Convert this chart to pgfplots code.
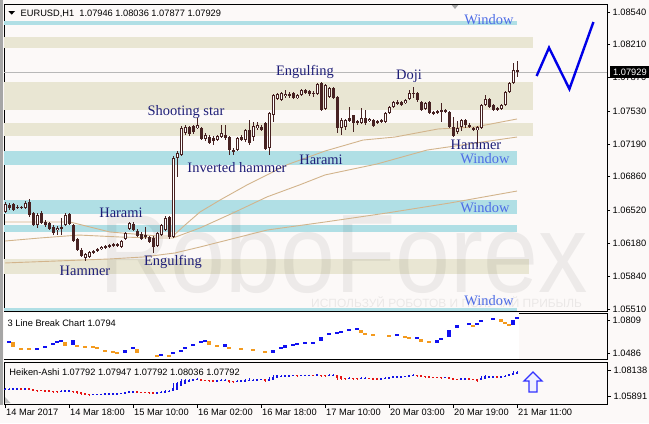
\documentclass[border=0pt]{standalone}
\usepackage{pgfplots}
\pgfplotsset{compat=1.18}
\usepackage{pgfplotstable}
\usepackage{fontspec}
\setmainfont{Liberation Sans}
\newfontfamily\serifface{Liberation Serif}

\definecolor{chartbg}{HTML}{FCF9F8}
\definecolor{candle}{HTML}{472222}
\definecolor{bandcyan}{HTML}{B0DFE5}
\definecolor{bandbeige}{HTML}{E9E6D3}
\definecolor{maline}{HTML}{D2B48C}
\definecolor{pattern}{HTML}{1E1E78}
\definecolor{window}{HTML}{4D6CE6}
\definecolor{lbblue}{HTML}{1010F0}
\definecolor{lborange}{HTML}{F39A1E}
\definecolor{hablue}{HTML}{1414E6}
\definecolor{hared}{HTML}{E61414}
\definecolor{zigzag}{HTML}{0000E8}

\pgfdeclarelayer{bg}
\pgfsetlayers{bg,main}

\newcommand\uifont{\fontsize{9.3}{11}\selectfont}
\newcommand\tagfont{\serifface\fontsize{14.5}{16}\selectfont}

% hollow arrow used by the signal plot
\pgfdeclareplotmark{hollowup}{%
  \pgfpathmoveto{\pgfqpoint{0bp}{10bp}}%
  \pgfpathlineto{\pgfqpoint{9bp}{1bp}}%
  \pgfpathlineto{\pgfqpoint{4bp}{1bp}}%
  \pgfpathlineto{\pgfqpoint{4bp}{-10bp}}%
  \pgfpathlineto{\pgfqpoint{-4bp}{-10bp}}%
  \pgfpathlineto{\pgfqpoint{-4bp}{1bp}}%
  \pgfpathlineto{\pgfqpoint{-9bp}{1bp}}%
  \pgfpathclose
  \pgfusepathqfillstroke}

\pgfplotsset{
  mtpanel/.style={
    scale only axis, width=603bp,
    xmin=-0.25, xmax=150.5, enlargelimits=false,
    axis background/.style={fill=chartbg},
    axis line style={black, line width=0.8bp},
    tick style={black, line width=0.7bp},
    tick align=outside, major tick length=3bp,
    ytick pos=right, xtick=\empty,
    yticklabel style={font=\uifont, inner sep=1bp, xshift=1.5bp},
  },
  % a vertical segment per row, drawn as an error bar and nothing else
  errbar/.style 2 args={draw=none, no markers, mark size=0pt,
    /pgfplots/error bars/y dir=both,
    /pgfplots/error bars/y explicit,
    /pgfplots/error bars/error mark=none,
    /pgfplots/error bars/error bar style={draw=#1, line width=#2, solid}},
}

% EURUSD H1 candles: bar index, open, high, low, close
\pgfplotstableread{
i o h l c
0 1.06500 1.06602 1.06490 1.06582
1 1.06571 1.06592 1.06520 1.06541
2 1.06582 1.06592 1.06510 1.06520
3 1.06541 1.06571 1.06531 1.06551
4 1.06551 1.06561 1.06531 1.06541
5 1.06541 1.06612 1.06531 1.06592
6 1.06602 1.06633 1.06449 1.06469
7 1.06490 1.06500 1.06357 1.06367
8 1.06367 1.06490 1.06337 1.06469
9 1.06490 1.06510 1.06377 1.06388
10 1.06398 1.06418 1.06347 1.06367
11 1.06388 1.06398 1.06316 1.06326
12 1.06347 1.06367 1.06265 1.06286
13 1.06316 1.06357 1.06265 1.06337
14 1.06347 1.06439 1.06265 1.06326
15 1.06367 1.06490 1.06357 1.06469
16 1.06479 1.06490 1.06367 1.06377
17 1.06367 1.06377 1.06194 1.06204
18 1.06224 1.06235 1.06102 1.06112
19 1.06112 1.06133 1.06041 1.06051
20 1.06031 1.06082 1.06000 1.06071
21 1.06041 1.06102 1.06031 1.06092
22 1.06082 1.06112 1.06071 1.06102
23 1.06122 1.06133 1.06092 1.06102
24 1.06122 1.06153 1.06112 1.06143
25 1.06133 1.06163 1.06122 1.06153
26 1.06163 1.06173 1.06133 1.06143
27 1.06153 1.06184 1.06143 1.06173
28 1.06173 1.06184 1.06143 1.06153
29 1.06143 1.06214 1.06133 1.06204
30 1.06224 1.06296 1.06214 1.06286
31 1.06326 1.06398 1.06316 1.06388
32 1.06377 1.06398 1.06306 1.06316
33 1.06306 1.06326 1.06245 1.06255
34 1.06275 1.06296 1.06214 1.06224
35 1.06245 1.06347 1.06224 1.06265
36 1.06245 1.06255 1.06184 1.06194
37 1.06235 1.06255 1.06082 1.06143
38 1.06153 1.06296 1.06143 1.06286
39 1.06265 1.06377 1.06255 1.06367
40 1.06316 1.06459 1.06306 1.06439
41 1.06449 1.06459 1.06224 1.06245
42 1.06245 1.07071 1.06235 1.07051
43 1.07051 1.07122 1.06857 1.07102
44 1.07081 1.07377 1.07071 1.07357
45 1.07306 1.07387 1.07285 1.07367
46 1.07367 1.07377 1.07275 1.07296
47 1.07377 1.07387 1.07296 1.07316
48 1.07357 1.07459 1.07347 1.07387
49 1.07357 1.07367 1.07234 1.07245
50 1.07245 1.07306 1.07224 1.07285
51 1.07265 1.07285 1.07194 1.07204
52 1.07255 1.07275 1.07183 1.07224
53 1.07234 1.07285 1.07224 1.07275
54 1.07265 1.07387 1.07255 1.07306
55 1.07285 1.07387 1.07234 1.07255
56 1.07265 1.07275 1.07081 1.07132
57 1.07132 1.07153 1.07081 1.07112
58 1.07132 1.07265 1.07122 1.07255
59 1.07265 1.07285 1.07224 1.07234
60 1.07234 1.07347 1.07214 1.07336
61 1.07336 1.07438 1.07183 1.07204
62 1.07265 1.07418 1.07224 1.07377
63 1.07357 1.07418 1.07336 1.07387
64 1.07367 1.07387 1.07326 1.07336
65 1.07408 1.07418 1.07132 1.07143
66 1.07153 1.07520 1.07081 1.07510
67 1.07489 1.07704 1.07418 1.07693
68 1.07653 1.07714 1.07642 1.07704
69 1.07642 1.07724 1.07632 1.07714
70 1.07683 1.07744 1.07663 1.07704
71 1.07704 1.07724 1.07663 1.07683
72 1.07714 1.07724 1.07653 1.07663
73 1.07663 1.07704 1.07653 1.07693
74 1.07693 1.07755 1.07683 1.07744
75 1.07744 1.07755 1.07704 1.07714
76 1.07734 1.07744 1.07683 1.07704
77 1.07704 1.07734 1.07673 1.07714
78 1.07704 1.07816 1.07693 1.07806
79 1.07816 1.07826 1.07530 1.07540
80 1.07551 1.07806 1.07540 1.07795
81 1.07673 1.07775 1.07663 1.07765
82 1.07765 1.07775 1.07653 1.07663
83 1.07673 1.07683 1.07306 1.07357
84 1.07357 1.07459 1.07285 1.07438
85 1.07367 1.07449 1.07336 1.07438
86 1.07459 1.07571 1.07418 1.07428
87 1.07489 1.07489 1.07316 1.07408
88 1.07428 1.07438 1.07387 1.07408
89 1.07408 1.07561 1.07398 1.07459
90 1.07459 1.07540 1.07387 1.07408
91 1.07428 1.07459 1.07418 1.07449
92 1.07438 1.07449 1.07367 1.07377
93 1.07428 1.07438 1.07398 1.07408
94 1.07418 1.07449 1.07408 1.07438
95 1.07418 1.07520 1.07408 1.07510
96 1.07510 1.07581 1.07500 1.07571
97 1.07571 1.07632 1.07561 1.07622
98 1.07622 1.07642 1.07591 1.07602
99 1.07622 1.07632 1.07581 1.07591
100 1.07612 1.07653 1.07602 1.07642
101 1.07653 1.07744 1.07642 1.07714
102 1.07704 1.07775 1.07663 1.07714
103 1.07714 1.07724 1.07622 1.07642
104 1.07622 1.07632 1.07530 1.07540
105 1.07551 1.07622 1.07540 1.07612
106 1.07622 1.07632 1.07500 1.07510
107 1.07520 1.07530 1.07489 1.07510
108 1.07510 1.07540 1.07500 1.07530
109 1.07540 1.07612 1.07418 1.07530
110 1.07540 1.07551 1.07510 1.07520
111 1.07520 1.07530 1.07357 1.07367
112 1.07367 1.07469 1.07265 1.07275
113 1.07316 1.07428 1.07296 1.07357
114 1.07367 1.07449 1.07326 1.07438
115 1.07438 1.07449 1.07357 1.07387
116 1.07387 1.07408 1.07357 1.07367
117 1.07357 1.07367 1.07326 1.07336
118 1.07336 1.07377 1.07163 1.07367
119 1.07357 1.07602 1.07347 1.07591
120 1.07591 1.07693 1.07581 1.07653
121 1.07653 1.07663 1.07561 1.07571
122 1.07591 1.07602 1.07530 1.07540
123 1.07561 1.07571 1.07530 1.07540
124 1.07551 1.07602 1.07540 1.07591
125 1.07591 1.07734 1.07581 1.07724
126 1.07724 1.07826 1.07714 1.07816
127 1.07816 1.08020 1.07806 1.07948
128 1.07946 1.08036 1.07877 1.07929
}\candles

% Heiken-Ashi open: half way between the previous Heiken-Ashi open and close
\pgfplotstablecreatecol[create col/expr={(\thisrow{o}+\thisrow{h}+\thisrow{l}+\thisrow{c})/4}]{hac}\candles
\gdef\haprevo{1.06500}\gdef\haprevc{1.06541}
\pgfplotstablecreatecol[create col/assign/.code={%
  \getthisrow{hac}\curc
  \pgfmathsetmacro\curo{(\haprevo+\haprevc)/2}%
  \xdef\haprevo{\curo}\xdef\haprevc{\curc}%
  \pgfkeyslet{/pgfplots/table/create col/next content}\curo
}]{hao}\candles

% 3 line break bricks (bar index, two ends)
\pgfplotstableread{
i a b
1 1.05936 1.05936
8 1.05251 1.05251
10 1.05446 1.05446
12 1.05838 1.05642
13 1.05936 1.05936
14 1.06132 1.05936
17 1.06132 1.05642
30 1.05153 1.04859
32 1.05348 1.05348
39 1.04761 1.04565
42 1.04859 1.04859
44 1.05055 1.05055
45 1.05348 1.05348
47 1.05642 1.05642
49 1.05936 1.05936
50 1.06034 1.06034
55 1.05740 1.05446
67 1.05153 1.04859
69 1.05348 1.05348
70 1.05642 1.05348
72 1.05642 1.05642
73 1.05740 1.05740
75 1.05838 1.05838
77 1.05936 1.05740
79 1.06426 1.06034
81 1.06719 1.06719
83 1.06817 1.06817
84 1.06915 1.06915
86 1.07111 1.07111
88 1.07209 1.07209
98 1.06621 1.06621
103 1.06328 1.06328
108 1.06132 1.05838
109 1.06328 1.06132
111 1.07111 1.06426
113 1.07600 1.07307
116 1.07698 1.07698
118 1.07796 1.07600
119 1.07992 1.07992
122 1.08188 1.08188
127 1.08090 1.07600
128 1.08384 1.08188
}\bricksup

\pgfplotstableread{
i a b
2 1.05936 1.05446
4 1.05251 1.05251
6 1.05251 1.05251
15 1.05936 1.05544
18 1.05544 1.05544
20 1.05446 1.05446
22 1.05446 1.05446
23 1.05348 1.05348
25 1.05153 1.04957
27 1.04957 1.04957
28 1.04859 1.04859
33 1.05251 1.04859
38 1.04565 1.04565
41 1.04565 1.04565
51 1.06034 1.05642
53 1.05544 1.05544
56 1.05446 1.05251
59 1.05251 1.05251
62 1.05153 1.05153
65 1.05055 1.04859
89 1.07111 1.06817
90 1.06719 1.06719
92 1.06621 1.06621
96 1.06524 1.06524
100 1.06426 1.06426
101 1.06328 1.06328
104 1.06230 1.05936
106 1.05936 1.05936
117 1.07600 1.07405
124 1.08188 1.07894
125 1.07894 1.07698
126 1.07600 1.07600
}\bricksdown

\begin{document}
\begin{tikzpicture}[x=1bp, y=1bp]

% ---------------- main price panel ----------------
\begin{axis}[mtpanel, name=main, height=307bp,
  ymin=1.05490, ymax=1.08622,
  ytick={1.0854,1.0821,1.0787,1.0753,1.0719,1.0686,1.0652,1.0618,1.0584,1.0551},
  yticklabels={1.08540,1.08210,1.07870,1.07530,1.07190,1.06860,1.06520,1.06180,1.05840,1.05510}]

% support / resistance bands
\addplot[fill=bandcyan, draw=none] coordinates {(-0.25,1.08410) (128,1.08410) (128,1.08451) (-0.25,1.08451)} -- cycle;
\addplot[fill=bandbeige, draw=none] coordinates {(-0.25,1.08173) (132,1.08173) (132,1.08285) (-0.25,1.08285)} -- cycle;
\addplot[fill=bandbeige, draw=none] coordinates {(-0.25,1.07540) (132,1.07540) (132,1.07826) (-0.25,1.07826)} -- cycle;
\addplot[fill=bandbeige, draw=none] coordinates {(-0.25,1.07275) (132,1.07275) (132,1.07408) (-0.25,1.07408)} -- cycle;
\addplot[fill=bandcyan, draw=none] coordinates {(-0.25,1.06979) (128,1.06979) (128,1.07122) (-0.25,1.07122)} -- cycle;
\addplot[fill=bandcyan, draw=none] coordinates {(-0.25,1.06479) (128,1.06479) (128,1.06622) (-0.25,1.06622)} -- cycle;
\addplot[fill=bandcyan, draw=none] coordinates {(-0.25,1.06296) (128,1.06296) (128,1.06367) (-0.25,1.06367)} -- cycle;
\addplot[fill=bandbeige, draw=none] coordinates {(-0.25,1.05867) (131,1.05867) (131,1.06020) (-0.25,1.06020)} -- cycle;
\addplot[fill=bandcyan, draw=none] coordinates {(-0.25,1.05490) (128,1.05490) (128,1.05520) (-0.25,1.05520)} -- cycle;

% watermark
\node[anchor=base west, inner sep=0, text=black, text opacity=0.06,
  font=\fontsize{112}{112}\selectfont] at (axis cs:23.5,1.05674) {\scalebox{0.885}[1]{RoboForex}};
\node[anchor=base west, inner sep=0, text=black, text opacity=0.07,
  font=\fontsize{12}{12}\selectfont] at (axis cs:76.5,1.05525) {ИСПОЛЬЗУЙ РОБОТОВ И ПОЛУЧАЙ ПРИБЫЛЬ};

% current price line
\addplot[black!28, line width=0.8bp] coordinates {(-0.25,1.07929) (150.5,1.07929)};

% moving averages
\addplot[maline, line width=0.9bp] coordinates {
(0,1.06398) (16.25,1.06398) (26.25,1.06296) (38.25,1.06255) (42,1.06255)
(45,1.06367) (48.75,1.06500) (53.75,1.06622) (60.5,1.06776) (65.5,1.06878)
(70.5,1.06982) (80,1.07122) (89.5,1.07234) (97.5,1.07265) (108.25,1.07347)
(117.5,1.07367) (128,1.07449)};
\addplot[maline, line width=0.9bp] coordinates {
(0,1.06204) (8.75,1.06235) (18.5,1.06265) (28.75,1.06245) (38.25,1.06235)
(42,1.06235) (48.75,1.06337) (57,1.06490) (65.5,1.06654) (73.75,1.06778)
(80,1.06878) (93,1.06990) (105.5,1.07132) (128,1.07265)};
\addplot[maline, line width=0.9bp] coordinates {
(0,1.05980) (26.25,1.06021) (34.5,1.06041) (42.5,1.06082) (48.75,1.06143)
(65.5,1.06316) (80,1.06398) (95.5,1.06490) (111.25,1.06592) (128,1.06714)};

% candles: wicks, bodies, hollow inside of rising candles
\addplot[errbar={candle}{1bp}] table[x=i,
  y expr={(\thisrow{h}+\thisrow{l})/2},
  y error expr={(\thisrow{h}-\thisrow{l})/2}] {\candles};
\addplot[errbar={candle}{3bp}] table[x=i,
  y expr={(\thisrow{o}+\thisrow{c})/2},
  y error expr={max(abs(\thisrow{o}-\thisrow{c})/2,0.00006)}] {\candles};
\addplot[restrict expr to domain={\thisrow{c}-\thisrow{o}}{0.00001:1},
  errbar={white}{1bp}] table[x=i,
  y expr={(\thisrow{o}+\thisrow{c})/2},
  y error expr={max(abs(\thisrow{o}-\thisrow{c})/2-0.0001,0)}] {\candles};

% forecast zigzag
\addplot[zigzag, line width=2.4bp] coordinates {
(132.9,1.07887) (136,1.08176) (141.1,1.07755) (147.1,1.08438)};
\end{axis}

% ---------------- 3 line break panel ----------------
\begin{axis}[mtpanel, name=lb, at={(main.south west)}, anchor=north west, yshift=-2bp,
  height=46bp, ymin=1.04273, ymax=1.08775,
  ytick={1.0486,1.0809}, yticklabels={1.0486,1.0809}]
\addplot[fill=white, draw=none] coordinates {(-0.25,1.04273) (128.6,1.04273) (128.6,1.08775) (-0.25,1.08775)} -- cycle;
\addplot[errbar={lbblue}{3.5bp}] table[x=i,
  y expr={(\thisrow{a}+\thisrow{b})/2},
  y error expr={max(abs(\thisrow{a}-\thisrow{b})/2,0.0008)}] {\bricksup};
\addplot[errbar={lborange}{3.5bp}] table[x=i,
  y expr={(\thisrow{a}+\thisrow{b})/2},
  y error expr={max(abs(\thisrow{a}-\thisrow{b})/2,0.0008)}] {\bricksdown};
\end{axis}

% ---------------- Heiken-Ashi panel ----------------
\begin{axis}[mtpanel, name=ha, at={(lb.south west)}, anchor=north west, yshift=-3bp,
  height=42bp, ymin=1.05276, ymax=1.08812,
  ytick={1.05891,1.08138}, yticklabels={1.05891,1.08138},
  xtick={0,16,32,48,64,80,96,112,128}, xtick pos=bottom, major tick length=4bp,
  xticklabels={14 Mar 2017,14 Mar 18:00,15 Mar 10:00,16 Mar 02:00,16 Mar 18:00,17 Mar 10:00,20 Mar 03:00,20 Mar 19:00,21 Mar 11:00},
  xticklabel style={font=\uifont, anchor=north west, inner sep=0pt, xshift=1bp, yshift=-1bp}]
% small wicks
\addplot[restrict expr to domain={\thisrow{hac}-\thisrow{hao}}{0:1}, errbar={hablue}{0.8bp}] table[x=i,
  y expr={(\thisrow{h}+\thisrow{hao})/2},
  y error expr={abs(\thisrow{h}-\thisrow{hao})/2}] {\candles};
\addplot[restrict expr to domain={\thisrow{hac}-\thisrow{hao}}{-1:0}, errbar={hared}{0.8bp}] table[x=i,
  y expr={(\thisrow{l}+\thisrow{hao})/2},
  y error expr={abs(\thisrow{l}-\thisrow{hao})/2}] {\candles};
% bodies
\addplot[restrict expr to domain={\thisrow{hac}-\thisrow{hao}}{0:1}, errbar={hablue}{2.8bp}] table[x=i,
  y expr={(\thisrow{hao}+\thisrow{hac})/2},
  y error expr={max(abs(\thisrow{hac}-\thisrow{hao})/2,0.0004)}] {\candles};
\addplot[restrict expr to domain={\thisrow{hac}-\thisrow{hao}}{-1:0}, errbar={hared}{2.8bp}] table[x=i,
  y expr={(\thisrow{hao}+\thisrow{hac})/2},
  y error expr={max(abs(\thisrow{hac}-\thisrow{hao})/2,0.0004)}] {\candles};
% buy signal
\addplot[only marks, mark=hollowup, mark options={draw=blue!80!white, fill=blue!6, line width=1.3bp}]
  coordinates {(132,1.07128)};
\end{axis}

% everything else in picture pixels, origin at the picture's lower left corner
\begin{scope}[shift={(main.south west)}, xshift=-4bp, yshift=-112bp]
\begin{pgfonlayer}{bg}
\fill[chartbg] (0,0) rectangle (649,423);
\fill[black!35] (0,18) rectangle (3,423);
\end{pgfonlayer}

% headers
\fill[black] (8.3,412) -- (15,412) -- (11.7,408.3) -- cycle;
\node[anchor=base west, inner sep=0, font=\uifont] at (20.5,406.5) {EURUSD,H1\ \ 1.07946 1.08036 1.07877 1.07929};
\node[anchor=base west, inner sep=0, font=\uifont] at (7.5,96.5) {3 Line Break Chart 1.0794};
\node[anchor=base west, inner sep=0, font=\uifont] at (9.3,47.5) {Heiken-Ashi 1.07792 1.07947 1.07792 1.08036 1.07792};
\fill[black!35] (451.7,418) -- (458.3,418) -- (455,414) -- cycle;
\fill[black!25] (5,20) -- (5,26) -- (10.5,20) -- cycle;

% current price tag
\fill[black] (609.5,345) rectangle (649,357);
\node[anchor=west, inner sep=0, font=\uifont, text=white] at (613,351) {1.07929};

% pattern labels
\tikzset{tag/.style={font=\tagfont, text=pattern, inner sep=0},
         win/.style={font=\tagfont, text=window, inner sep=0}}
\node[tag] at (186,311) {Shooting star};
\node[tag] at (305,351) {Engulfing};
\node[tag] at (409,347) {Doji};
\node[tag] at (476,278) {Hammer};
\node[tag] at (237,255) {Inverted hammer};
\node[tag] at (321,263) {Harami};
\node[tag] at (121,210) {Harami};
\node[tag] at (85,152) {Hammer};
\node[tag] at (173,161) {Engulfing};
\node[win] at (489,403) {Window};
\node[win] at (485,264) {Window};
\node[win] at (485,215) {Window};
\node[win] at (489,122) {Window};
\end{scope}
\end{tikzpicture}
\end{document}
